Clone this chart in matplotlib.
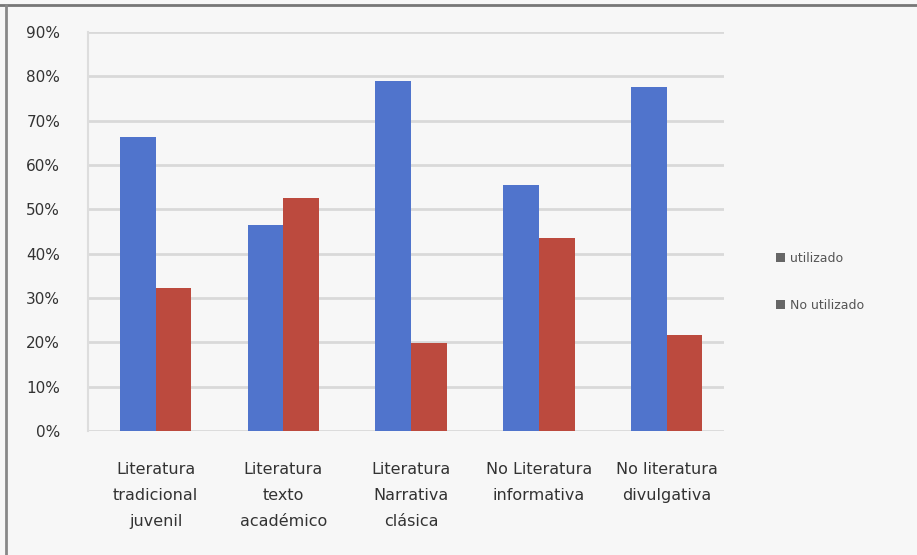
import matplotlib
matplotlib.use("Agg")
import matplotlib.pyplot as plt
import numpy as np
from matplotlib.lines import Line2D
from matplotlib.patches import Patch

categories = [
    "Literatura\ntradicional\njuvenil",
    "Literatura\ntexto\nacadémico",
    "Literatura\nNarrativa\nclásica",
    "No Literatura\ninformativa",
    "No literatura\ndivulgativa",
]
series_names = ["utilizado", "No utilizado"]
used = [0.664, 0.464, 0.790, 0.554, 0.777]
not_used = [0.322, 0.525, 0.198, 0.435, 0.216]
y_ticks = [0.0, 0.1, 0.2, 0.3, 0.4, 0.5, 0.6, 0.7, 0.8, 0.9]

blue = "#5074CC"
red = "#BC4A3E"
bg = "#F7F7F7"

fig = plt.figure(figsize=(9.17, 5.55), dpi=100, facecolor=bg)
ax = fig.add_axes([88 / 917, 1 - 431 / 555, (724 - 88) / 917, (431 - 32) / 555])
ax.set_facecolor(bg)

x = np.arange(len(categories))
w = 0.28
ax.bar(x - w / 2, used, width=w, color=blue, zorder=3)
ax.bar(x + w / 2, not_used, width=w, color=red, zorder=3)

ax.set_ylim(0, 0.9)
ax.set_xlim(-0.53, 4.45)
ax.set_yticks(y_ticks)
ax.set_yticklabels([f"{int(round(t * 100))}%" for t in y_ticks],
                   fontsize=11, color="#333333")
ax.yaxis.grid(True, color="#D9D9D9", linewidth=2, zorder=0)
ax.set_xticks(x)
ax.set_xticklabels(categories, fontsize=11.5, color="#333333", linespacing=1.95)
ax.tick_params(axis="y", length=0, pad=20)
ax.tick_params(axis="x", length=0, pad=22)
for side in ["top", "right", "bottom"]:
    ax.spines[side].set_visible(False)
ax.spines["left"].set_color("#DDDDDD")
ax.spines["left"].set_linewidth(1.5)

handles = [Patch(facecolor="#666666", edgecolor="none"),
           Patch(facecolor="#666666", edgecolor="none")]
fig.legend(handles, series_names, loc="center left",
           bbox_to_anchor=(765 / 917, 1 - 282 / 555), frameon=False,
           fontsize=9, labelspacing=2.7, handlelength=0.7, handleheight=0.7,
           handletextpad=0.4, labelcolor="#555555")

# outer frame lines
fig.add_artist(Line2D([0, 1], [1 - 5 / 555, 1 - 5 / 555], color="#777777",
                      linewidth=2, transform=fig.transFigure))
fig.add_artist(Line2D([6 / 917, 6 / 917], [0, 1 - 5 / 555], color="#888888",
                      linewidth=2, transform=fig.transFigure))

fig.savefig("out.png", dpi=100, facecolor=bg)
